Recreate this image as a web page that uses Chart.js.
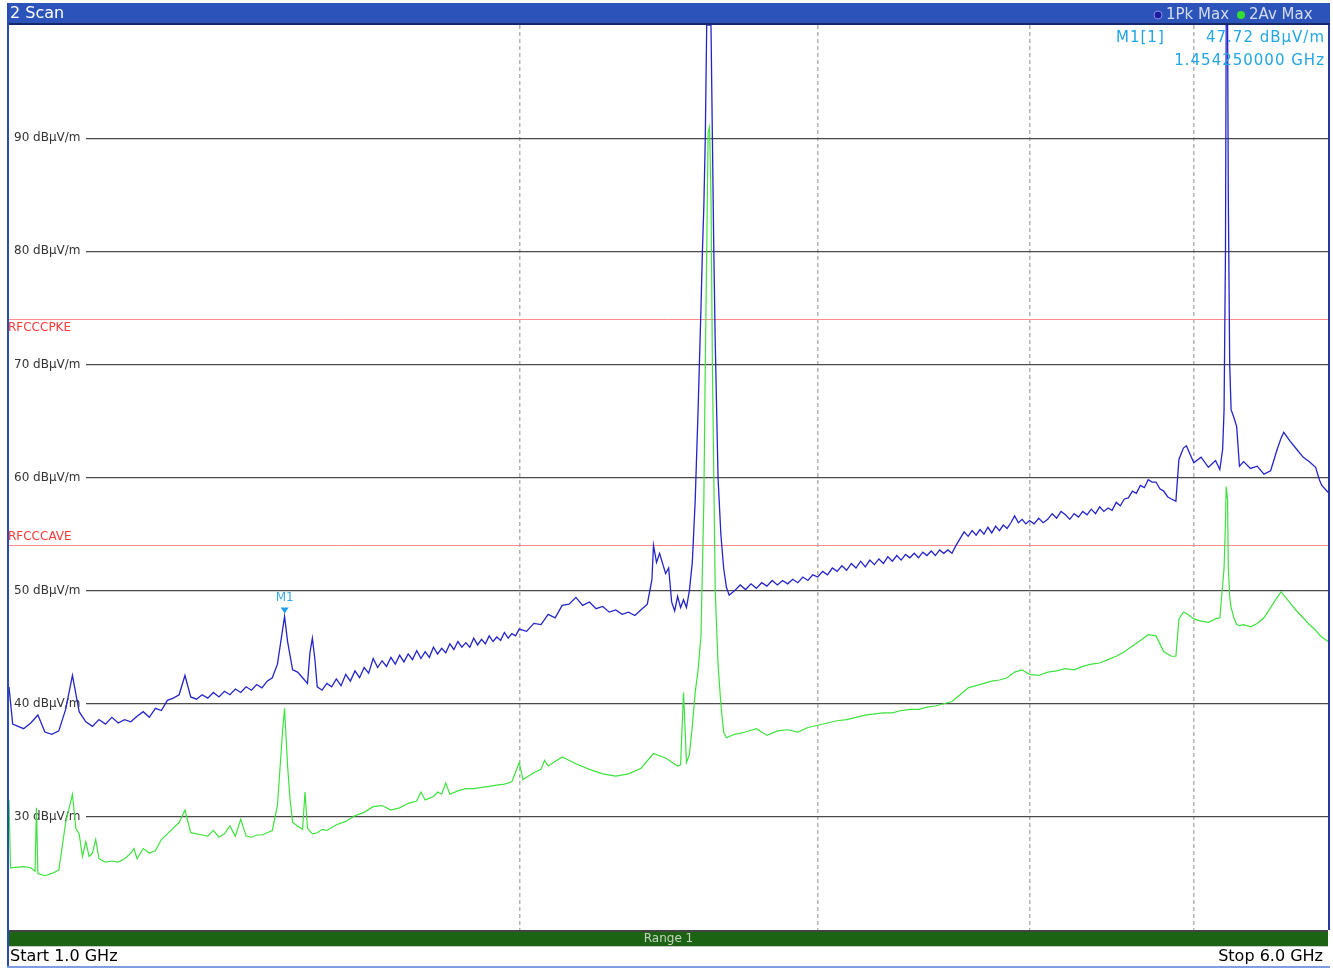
<!DOCTYPE html>
<html lang="en">
<head>
  <meta charset="UTF-8" />
  <title>2 Scan</title>
  <script src="https://cdn.jsdelivr.net/npm/chart.js"></script>
  <style>
    body { margin:0; background:#fff; }
    canvas { display:block; }
  </style>
</head>
<body>
<canvas id="scan" width="1333" height="970"></canvas>
<script>
  // Trace 1: Pk Max (frequency in GHz, level in dBµV/m)
  const pkFreq = [
    1.00,1.005,1.02,1.03,1.04,1.05,1.06,1.07,1.08,1.09,
    1.10,1.11,1.12,1.13,1.14,1.15,1.16,1.17,1.18,1.19,
    1.20,1.21,1.22,1.23,1.24,1.25,1.26,1.27,1.28,1.29,
    1.30,1.31,1.32,1.33,1.34,1.35,1.36,1.37,1.38,1.39,
    1.40,1.41,1.42,1.43,1.44,1.45,1.454,1.46,1.47,1.48,
    1.49,1.50,1.505,1.51,1.515,1.52,1.53,1.54,1.55,
    1.56,1.57,1.58,1.59,1.60,1.61,1.62,1.63,1.64,1.65,
    1.66,1.67,1.68,1.69,1.70,1.71,1.72,1.73,1.74,1.75,
    1.76,1.77,1.78,1.79,1.80,1.81,1.82,1.83,1.84,1.85,
    1.86,1.87,1.88,1.89,1.90,1.91,1.92,1.93,1.94,1.95,
    1.96,1.97,1.98,1.99,2.00,
    2.02,2.04,2.06,2.08,2.10,2.12,2.14,2.16,2.18,2.20,
    2.22,2.24,2.26,2.28,2.30,2.32,2.34,2.36,
    2.38,2.395,2.40,2.41,2.42,2.44,2.45,2.46,2.47,2.48,2.49,
    2.50,2.51,2.52,2.53,2.54,2.55,2.56,2.565,2.57,2.575,2.58,2.59,2.595,2.60,2.605,2.61,2.62,2.63,2.64,2.65,2.66,
    2.68,2.70,2.72,2.74,2.76,2.78,2.80,2.82,2.84,2.86,
    2.88,2.90,2.92,2.94,2.96,2.98,3.00,3.02,3.04,3.06,
    3.08,3.10,3.12,3.14,3.16,3.18,3.20,3.22,3.24,3.26,
    3.28,3.30,3.32,3.34,3.36,3.38,3.40,3.42,3.44,3.46,
    3.48,3.50,3.52,3.54,3.56,3.58,3.60,3.62,3.64,3.66,
    3.68,3.70,3.72,3.74,3.76,3.78,3.80,3.82,3.84,3.86,
    3.88,3.90,3.92,3.94,3.96,3.98,4.00,
    4.025,4.05,4.075,4.10,4.125,4.15,4.175,4.20,4.225,4.25,
    4.275,4.30,4.325,4.35,4.375,4.40,4.425,4.45,4.475,4.50,
    4.525,4.55,4.575,4.60,4.625,4.65,4.675,4.70,4.725,4.75,
    4.775,4.80,4.825,4.85,4.88,4.90,4.93,4.95,
    5.00,5.05,5.10,5.15,5.18,5.20,5.21,5.22,5.225,5.235,5.24,5.25,
    5.26,5.28,5.30,5.32,5.35,5.40,5.45,5.50,5.55,5.60,
    5.63,5.65,5.70,5.75,5.80,5.85,5.90,5.93,5.95,6.00];
  const pkLevel = [
    41.5,38.2,37.8,38.3,39.0,37.5,37.3,37.6,39.5,42.5,
    39.3,38.4,38.0,38.6,38.2,38.8,38.3,38.6,38.4,38.9,
    39.3,38.8,39.6,39.4,40.3,40.5,40.8,42.5,40.6,40.4,
    40.8,40.5,41.0,40.6,41.1,40.8,41.3,41.0,41.5,41.2,
    41.7,41.4,42.0,42.3,43.5,46.5,47.72,45.5,43.0,42.8,
    42.3,41.8,44.5,45.8,44.0,41.5,41.2,41.8,41.5,
    42.2,41.6,42.6,42.0,42.9,42.3,43.2,42.7,44.0,43.2,
    43.8,43.3,44.1,43.5,44.3,43.7,44.4,43.9,44.7,44.0,
    44.6,44.1,45.0,44.4,44.9,44.5,45.3,44.8,45.5,45.0,
    45.4,45.0,45.8,45.2,45.7,45.3,46.0,45.5,45.9,45.6,
    46.3,45.8,46.2,46.0,46.6,
    46.4,47.1,47.0,47.9,47.6,48.7,48.8,49.4,48.7,49.0,
    48.4,48.6,48.1,48.3,47.9,48.1,47.8,48.3,
    48.8,51.0,54.0,52.5,53.3,51.5,52.0,49.0,48.2,49.5,48.5,
    49.2,48.5,50.0,52.5,58,66,75,80,84,90,100,100,100,90,80,72,60,55,52,50.3,49.6,
    50.0,50.5,50.1,50.6,50.2,50.7,50.4,50.9,50.5,50.9,
    50.6,51.0,50.7,51.2,50.9,51.4,51.2,51.7,51.4,52.0,
    51.7,52.2,51.8,52.4,52.0,52.6,52.1,52.7,52.3,52.8,
    52.4,53.0,52.6,53.1,52.7,53.2,52.9,53.3,52.9,53.4,
    53.1,53.5,53.1,53.6,53.3,53.6,53.3,54.0,54.6,55.2,
    54.8,55.3,54.9,55.4,55.0,55.6,55.1,55.7,55.3,55.8,
    55.5,56.0,56.6,56.0,56.3,55.9,56.2,
    55.9,56.4,56.0,56.3,56.8,56.4,57.0,56.7,56.3,56.8,
    56.5,57.0,56.7,57.2,56.8,57.4,57.0,57.3,57.1,57.8,
    57.5,58.1,58.2,58.8,58.6,59.3,59.1,59.8,59.6,59.6,
    59.0,58.8,58.3,58.1,57.9,61.6,62.6,62.8,
    61.3,61.8,60.9,61.5,60.7,62.5,66,80,100,100,85,70,
    66,65.3,64.5,61.0,61.4,60.8,61.0,60.3,60.6,62.5,
    63.5,64.0,63.2,62.5,61.8,61.4,60.9,59.8,59.3,58.7];

  // Trace 2: Av Max
  const avFreq = [1.00,1.002,1.02,1.03,1.036,1.038,1.04,1.05,1.06,1.07,1.08,1.09,1.095,1.10,1.105,1.11,1.115,1.12,1.125,1.13,
    1.14,1.15,1.16,1.17,1.18,1.185,1.19,1.20,1.21,1.22,1.23,1.24,1.25,1.26,1.27,1.28,1.29,1.30,1.31,1.32,
    1.33,1.34,1.35,1.36,1.37,1.38,1.39,1.40,1.41,1.42,1.43,1.44,1.45,1.454,1.46,1.465,1.47,1.48,1.49,1.495,
    1.50,1.51,1.52,1.53,1.54,1.56,1.58,1.60,1.62,1.64,1.66,1.68,1.70,1.72,1.74,1.75,1.76,1.78,1.79,1.80,1.81,
    1.82,1.84,1.86,1.88,1.90,1.92,1.94,1.96,1.98,2.00,2.01,2.04,2.06,2.07,2.08,2.12,2.16,2.20,2.24,2.28,2.32,
    2.36,2.40,2.44,2.48,2.49,2.50,2.51,2.52,2.53,2.54,2.55,2.56,2.565,2.57,2.575,2.58,2.585,2.59,2.595,2.60,
    2.605,2.61,2.62,2.63,2.64,2.65,2.68,2.72,2.76,2.80,2.84,2.88,2.92,2.96,3.00,3.04,3.08,3.12,3.16,3.20,
    3.24,3.28,3.32,3.36,3.40,3.44,3.48,3.52,3.56,3.60,3.64,3.68,3.72,3.76,3.80,3.84,3.88,3.92,3.96,4.00,
    4.05,4.10,4.15,4.20,4.25,4.30,4.35,4.40,4.45,4.50,4.55,4.60,4.65,4.70,4.75,4.80,4.85,4.88,4.90,4.93,
    4.95,5.00,5.05,5.10,5.15,5.18,5.20,5.21,5.22,5.225,5.235,5.24,5.25,5.26,5.28,5.30,5.32,5.35,5.40,5.45,
    5.50,5.55,5.60,5.63,5.65,5.70,5.75,5.80,5.85,5.90,5.93,5.95,6.00];
  const avLevel = [31.5,25.5,25.6,25.5,25.2,30.8,25.0,24.8,25.0,25.3,29.5,32.0,29.0,28.5,26.5,27.8,26.5,26.8,28.0,26.3,
    26.0,26.1,26.0,26.3,26.8,27.2,26.3,27.2,26.8,27.0,28.0,28.5,29.0,29.5,30.6,28.6,28.5,28.4,28.3,28.8,
    28.2,28.5,29.2,28.3,29.8,28.3,28.2,28.4,28.4,28.6,28.8,31.0,37.5,39.6,34.5,31.5,29.5,29.2,28.9,32.2,
    29.0,28.5,28.6,28.9,28.8,29.3,29.6,30.1,30.4,30.9,31.0,30.6,30.8,31.2,31.4,32.2,31.5,31.8,32.2,32.0,33.0,
    32.0,32.3,32.5,32.5,32.6,32.7,32.8,32.9,33.1,34.8,33.3,33.9,34.2,35.0,34.5,35.3,34.7,34.2,33.8,33.6,33.8,
    34.3,35.6,35.2,34.5,34.6,41.0,34.8,35.5,38,41,43,46,52,58,70,80,90.5,91,85,70,
    60,50,43.5,40,37.5,37.0,37.3,37.5,37.8,37.2,37.6,37.7,37.5,37.9,38.1,38.3,38.5,38.6,38.8,39.0,
    39.1,39.2,39.2,39.4,39.5,39.5,39.7,39.8,40.0,40.2,40.8,41.4,41.6,41.8,42.0,42.1,42.3,42.8,43.0,42.6,
    42.5,42.8,42.9,43.1,43.0,43.3,43.5,43.6,43.9,44.2,44.6,45.1,45.6,46.1,46.0,44.6,44.2,44.2,47.5,48.1,
    48.0,47.5,47.3,47.2,47.5,47.6,50.5,52,56,59.2,58,52,49.5,48.5,47.6,47.0,46.9,47.0,46.8,47.1,
    47.6,48.5,49.4,49.9,49.6,48.9,48.2,47.6,47.0,46.5,46.1,45.9,45.5];

  const xGrid = [2, 3, 4, 5];                       // GHz, dashed
  const yGrid = [30, 40, 50, 60, 70, 80, 90];       // dBµV/m
  const limitNames = ['RFCCCPKE', 'RFCCCAVE'];
  const limitLevels = [74, 54];
  const marker = { name:'M1', freq:1.45425, level:47.72 };

  const toXY = (f, l) => f.map((v, i) => ({ x:v, y:l[i] }));

  // frame, title bar, range bar
  const frame = {
    id:'frame',
    beforeDraw(c){
      const g = c.ctx, a = c.chartArea;
      g.save();
      g.fillStyle = '#fff'; g.fillRect(0, 0, c.width, c.height);
      g.fillStyle = '#2b53b9'; g.fillRect(7, 3, 1323, 21);
      g.fillStyle = '#14286a'; g.fillRect(7, 23, 1323, 2);
      g.fillStyle = '#fff'; g.font = '16px "DejaVu Sans"'; g.textBaseline = 'middle';
      g.fillText('2 Scan', 10, 14);
      // legend
      g.font = '15px "DejaVu Sans"'; g.fillStyle = '#d4dcec';
      g.fillText('1Pk Max', 1166, 15);
      g.fillText('2Av Max', 1249, 15);
      g.beginPath(); g.arc(1158, 15, 4, 0, Math.PI*2); g.fillStyle = '#1c1c9c'; g.fill();
      g.strokeStyle = '#8c8cf0'; g.lineWidth = 1; g.stroke();
      g.beginPath(); g.arc(1241, 15, 4, 0, Math.PI*2); g.fillStyle = '#33dd33'; g.fill();
      // range bar
      g.fillStyle = '#444'; g.fillRect(a.left, a.bottom, a.right - a.left, 2);
      g.fillStyle = '#1c6413'; g.fillRect(a.left, a.bottom + 2, a.right - a.left, 14);
      g.fillStyle = '#c8ccc8'; g.fillRect(a.left, a.bottom + 16, a.right - a.left, 1);
      g.fillStyle = '#c8d4c4'; g.font = '12px "DejaVu Sans"'; g.textAlign = 'center';
      g.fillText('Range 1', (a.left + a.right) / 2, a.bottom + 9);
      g.fillStyle = '#000'; g.font = '16px "DejaVu Sans"';
      g.textAlign = 'left'; g.fillText('Start 1.0 GHz', 10, a.bottom + 27);
      g.textAlign = 'right'; g.fillText('Stop 6.0 GHz', 1323, a.bottom + 27);
      // outline
      g.fillStyle = '#2a4cb0'; g.fillRect(7, 3, 2, 964);
      g.fillStyle = '#2a3a9a'; g.fillRect(a.right, a.top, 2, a.bottom - a.top);
      g.fillStyle = '#7f9de0'; g.fillRect(7, 966, 1323, 2);
      g.restore();
    },
    beforeDatasetsDraw(c){
      const g = c.ctx, a = c.chartArea, y = c.scales.y;
      g.save();
      g.font = '12px "DejaVu Sans"'; g.textBaseline = 'middle';
      yGrid.forEach(v => {
        const py = y.getPixelForValue(v);
        g.fillStyle = '#fff'; g.fillRect(a.left, py - 2, 77, 4);
        g.fillStyle = '#333'; g.textAlign = 'left';
        g.fillText(v + ' dBµV/m', a.left + 5, py);
      });
      limitLevels.forEach((v, i) => {
        const py = Math.round(y.getPixelForValue(v)) + 0.5;
        g.strokeStyle = '#ff8c8c'; g.lineWidth = 1;
        g.beginPath(); g.moveTo(a.left, py); g.lineTo(a.right, py); g.stroke();
        g.fillStyle = '#ff3838';
        g.fillText(limitNames[i], a.left - 1, i === 0 ? py + 8 : py - 9);
      });
      g.restore();
    },
    afterDatasetsDraw(c){
      const g = c.ctx, x = c.scales.x, y = c.scales.y;
      const mx = x.getPixelForValue(marker.freq), my = y.getPixelForValue(marker.level);
      g.save();
      g.fillStyle = '#1e9ee6';
      g.beginPath(); g.moveTo(mx - 4, my - 9); g.lineTo(mx + 4, my - 9); g.lineTo(mx, my - 3); g.closePath(); g.fill();
      g.font = '12px "DejaVu Sans"'; g.textAlign = 'center'; g.textBaseline = 'middle';
      g.fillStyle = '#3aa8e8'; g.fillText(marker.name, mx, my - 19);
      g.font = '15px "DejaVu Sans"'; g.fillStyle = '#22a6e6';
      if ('letterSpacing' in g) g.letterSpacing = '1px';
      g.textAlign = 'left'; g.fillText(marker.name + '[1]', 1116, 38);
      g.textAlign = 'right';
      g.fillText(marker.level.toFixed(2) + ' dBµV/m', 1325, 38);
      g.fillText(marker.freq.toFixed(9) + ' GHz', 1325, 61);
      g.restore();
    }
  };

  new Chart(document.getElementById('scan'), {
    type:'line',
    data:{ datasets:[
      { label:'1Pk Max', data:toXY(pkFreq, pkLevel), borderColor:'#2424c8', borderWidth:1.3, pointRadius:0, tension:0 },
      { label:'2Av Max', data:toXY(avFreq, avLevel), borderColor:'#3ee23e', borderWidth:1.2, pointRadius:0, tension:0 }
    ]},
    options:{
      responsive:false, animation:false, devicePixelRatio:1,
      layout:{ padding:{ left:9, right:5, top:25, bottom:40 } },
      plugins:{ legend:{ display:false }, tooltip:{ enabled:false } },
      scales:{
        x:{ type:'logarithmic', min:1, max:6,
            afterBuildTicks: s => { s.ticks = xGrid.map(v => ({ value:v })); },
            ticks:{ display:false },
            grid:{ color:'#b4b4b4', lineWidth:1.5, drawTicks:false },
            border:{ display:false, dash:[4,3] } },
        y:{ min:20, max:100,
            afterBuildTicks: s => { s.ticks = yGrid.map(v => ({ value:v })); },
            ticks:{ display:false },
            grid:{ color:'#4a4a4a', lineWidth:1.2, drawTicks:false },
            border:{ display:false } }
      }
    },
    plugins:[frame]
  });
</script>
</body>
</html>
